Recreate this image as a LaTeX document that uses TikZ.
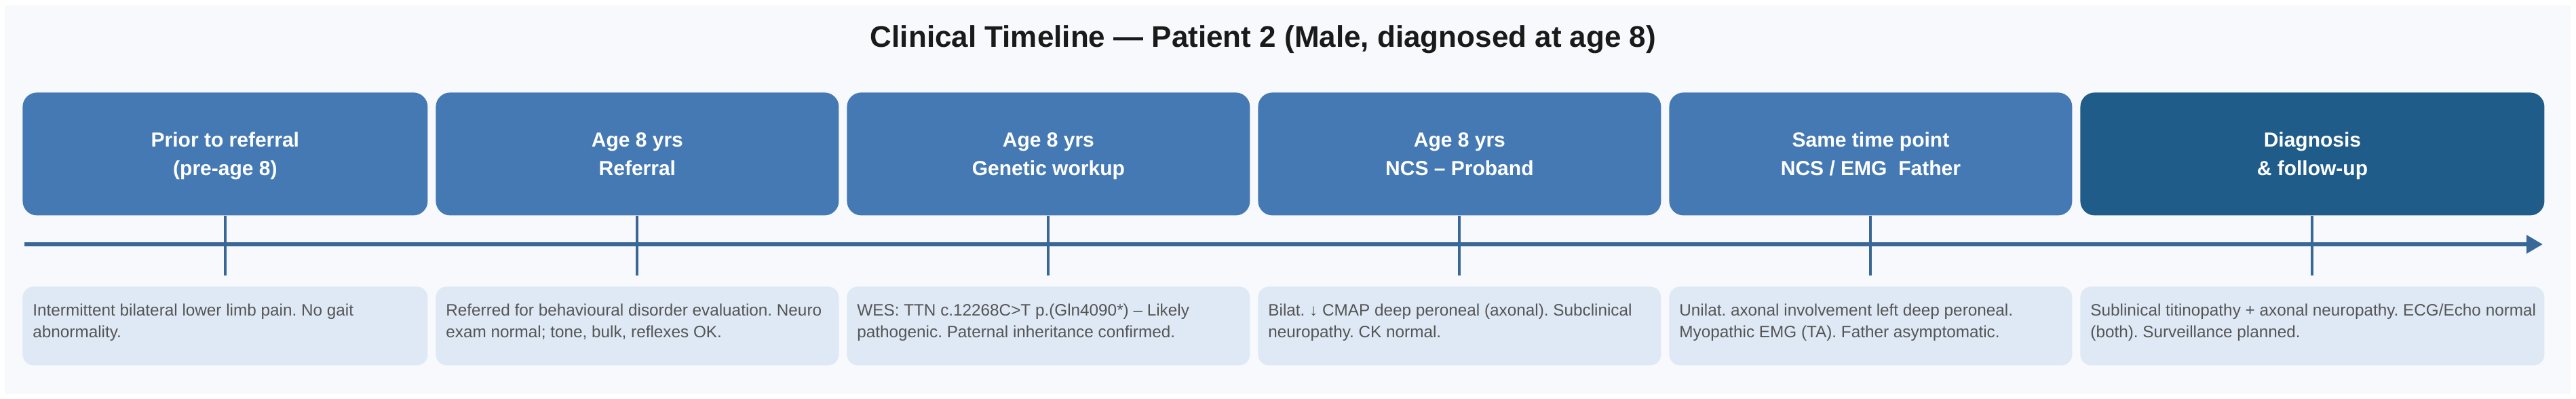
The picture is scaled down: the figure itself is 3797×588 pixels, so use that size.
\documentclass[tikz,border=0pt]{standalone}
\usepackage{fontspec}
\setmainfont{Liberation Sans}
\usetikzlibrary{arrows.meta,calc}
\definecolor{hdrblue}{HTML}{4479B4}
\definecolor{diagblue}{HTML}{205C8A}
\definecolor{lineblue}{HTML}{3A6896}
\definecolor{detailfill}{HTML}{DEE9F5}
\definecolor{panelbg}{HTML}{F7F9FC}
\definecolor{detailtext}{HTML}{555555}
\definecolor{titletext}{HTML}{1A1A1A}
\newcommand\px{0.5pt}
\newcommand\hstrut{\rule[-3pt]{0pt}{16.75pt}}
\newcommand\dstrut{\rule{0pt}{12pt}}
\frenchspacing
\begin{document}
\begin{tikzpicture}[x=0.5pt,y=-0.5pt,
  hdr/.style={rectangle, rounded corners=10.5pt, fill=hdrblue, text=white,
    font=\fontsize{15pt}{20.75pt}\selectfont\bfseries, align=center,
    anchor=north west, minimum height=181*\px, inner sep=0pt},
  diag/.style={hdr, fill=diagblue},
  detailbox/.style={rectangle, rounded corners=8pt, fill=detailfill,
    anchor=north west, minimum height=116*\px, inner sep=0pt},
  detailtext/.style={anchor=north west, inner sep=0pt, align=left,
    text=detailtext, font=\fontsize{12.15pt}{16.25pt}\selectfont\frenchspacing},
  tick/.style={draw=lineblue, line width=4*\px},
  timeline/.style={draw=lineblue, line width=6*\px,
    -{Triangle[length=24*\px, width=26*\px]}},
  titlestyle/.style={anchor=base, text=titletext,
    font=\fontsize{22pt}{26pt}\selectfont\bfseries}
]
\useasboundingbox (0,0) rectangle (3797,588);
\fill[white] (0,0) rectangle (3797,588);
\fill[panelbg] (7,8) rectangle (3789,581);

\node[titlestyle] (title) at (1862,70) {Clinical Timeline — Patient 2 (Male, diagnosed at age 8)};

% timeline
\coordinate (ts) at (36,360);
\coordinate (te) at (3748,360);
\draw[timeline] (ts) -- (te);

% header boxes
\node[hdr, minimum width=597*\px] (h1) at (33,136) {\hstrut Prior to referral\\\hstrut (pre-age 8)};
\node[hdr, minimum width=594*\px] (h2) at (642,136) {\hstrut Age 8 yrs\\\hstrut Referral};
\node[hdr, minimum width=594*\px] (h3) at (1248,136) {\hstrut Age 8 yrs\\\hstrut Genetic workup};
\node[hdr, minimum width=594*\px] (h4) at (1854,136) {\hstrut Age 8 yrs\\\hstrut NCS – Proband};
\node[hdr, minimum width=594*\px] (h5) at (2460,136) {\hstrut Same time point\\\hstrut NCS / EMG\ \ Father};
\node[diag, minimum width=684*\px] (h6) at (3066,136) {\hstrut Diagnosis\\\hstrut \& follow-up};

% ticks
\foreach \i in {1,...,6}{
  \coordinate (k\i) at ($(h\i.south)+(0,88)$);
  \draw[tick] (h\i.south) -- (k\i);
}

% detail boxes
\node[detailbox, minimum width=597*\px] (d1) at (33,422) {};
\node[detailbox, minimum width=594*\px] (d2) at (642,422) {};
\node[detailbox, minimum width=594*\px] (d3) at (1248,422) {};
\node[detailbox, minimum width=594*\px] (d4) at (1854,422) {};
\node[detailbox, minimum width=594*\px] (d5) at (2460,422) {};
\node[detailbox, minimum width=684*\px] (d6) at (3066,422) {};

\node[detailtext] (t1) at ($(d1.north west)+(15,19)$) {\dstrut Intermittent bilateral lower limb pain. No gait\\abnormality.};
\node[detailtext] (t2) at ($(d2.north west)+(15,19)$) {\dstrut Referred for behavioural disorder evaluation. Neuro\\exam normal; tone, bulk, reflexes OK.};
\node[detailtext] (t3) at ($(d3.north west)+(15,19)$) {\dstrut WES: TTN c.12268C>T p.(Gln4090*) – Likely\\pathogenic. Paternal inheritance confirmed.};
\node[detailtext] (t4) at ($(d4.north west)+(15,19)$) {\dstrut Bilat. ↓ CMAP deep peroneal (axonal). Subclinical\\neuropathy. CK normal.};
\node[detailtext] (t5) at ($(d5.north west)+(15,19)$) {\dstrut Unilat. axonal involvement left deep peroneal.\\Myopathic EMG (TA). Father asymptomatic.};
\node[detailtext] (t6) at ($(d6.north west)+(15,19)$) {\dstrut Sublinical titinopathy + axonal neuropathy. ECG/Echo normal\\(both). Surveillance planned.};
\end{tikzpicture}
\end{document}
